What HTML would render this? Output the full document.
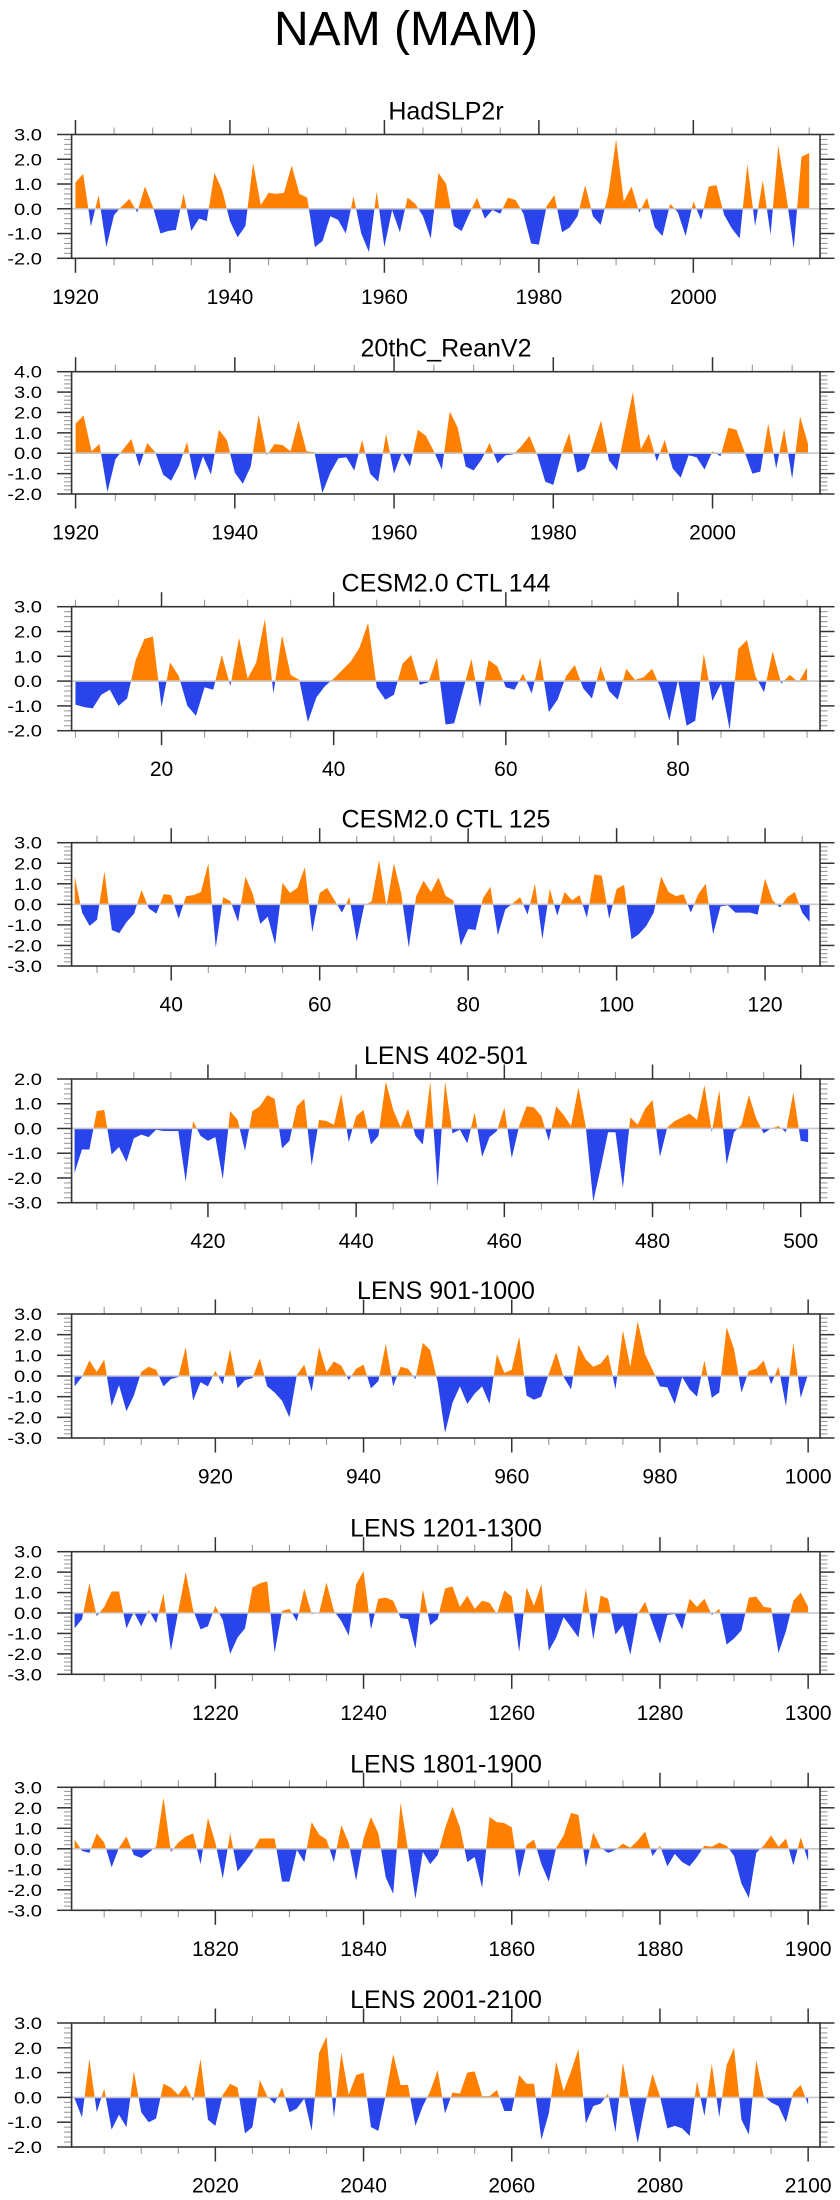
<!DOCTYPE html>
<html><head><meta charset="utf-8">
<style>
html,body{margin:0;padding:0;background:#fff;}
svg{display:block;font-family:"Liberation Sans",sans-serif;}
</style></head>
<body>
<svg id="chart" width="840" height="2200" viewBox="0 0 840 2200" xmlns="http://www.w3.org/2000/svg">
<text x="406" y="45" font-size="48" text-anchor="middle" fill="#000">NAM (MAM)</text>
</svg>
<script>
// ---- data ----
const panelTitles = ["HadSLP2r","20thC_ReanV2","CESM2.0 CTL 144","CESM2.0 CTL 125","LENS 402-501","LENS 901-1000","LENS 1201-1300","LENS 1801-1900","LENS 2001-2100"];
const panelStarts = [1920,1920,10,27,402,901,1201,1801,2001];
const hadslpValues = [1.06,1.41,-0.71,0.55,-1.55,-0.25,0.1,0.4,-0.15,0.9,0.1,-1.0,-0.9,-0.85,0.6,-0.9,-0.4,-0.5,1.45,0.75,-0.5,-1.15,-0.7,1.85,0.15,0.65,0.6,0.65,1.75,0.6,0.45,-1.55,-1.3,-0.3,-0.45,-1.0,0.5,-1.0,-1.75,0.7,-1.55,-0.05,-0.95,0.45,0.2,-0.3,-1.2,1.45,1.0,-0.7,-0.9,-0.2,0.45,-0.4,-0.05,-0.2,0.45,0.35,-0.2,-1.4,-1.45,0.1,0.55,-0.95,-0.75,-0.3,0.95,-0.3,-0.65,0.6,2.8,0.3,0.9,-0.15,0.45,-0.75,-1.1,0.2,-0.15,-1.1,0.3,-0.45,0.9,0.95,-0.25,-0.8,-1.2,1.8,-0.7,1.15,-1.05,2.55,0.6,-1.6,2.1,2.25];
const reanValues = [1.45,1.85,0.1,0.45,-1.9,-0.3,0.2,0.7,-0.65,0.5,0.05,-1.05,-1.35,-0.6,0.55,-1.35,-0.15,-1.05,1.15,0.65,-0.95,-1.5,-0.65,1.9,-0.1,0.45,0.4,0.1,1.6,0.1,0.05,-1.95,-0.95,-0.25,-0.2,-0.85,0.65,-1.0,-1.4,0.95,-1.0,0.05,-0.65,1.15,0.85,0.1,-0.8,2.05,1.25,-0.65,-0.85,-0.3,0.5,-0.5,-0.1,-0.05,0.35,0.85,-0.1,-1.4,-1.55,-0.1,1.0,-0.95,-0.75,0.4,1.6,-0.35,-0.85,1.1,3.0,0.2,0.95,-0.4,0.65,-0.75,-1.2,-0.1,-0.2,-0.8,0.1,-0.15,1.25,1.15,0.1,-1.0,-0.9,1.45,-0.75,1.2,-1.25,1.8,0.45];
const ctl144Values = [-0.95,-1.05,-1.1,-0.55,-0.35,-1.0,-0.7,0.85,1.7,1.8,-1.05,0.75,0.2,-1.0,-1.4,-0.25,-0.35,1.05,-0.2,1.75,0.1,0.75,2.5,-0.5,1.85,0.25,0.05,-1.65,-0.65,-0.2,0.1,0.45,0.8,1.35,2.35,-0.25,-0.75,-0.55,0.7,1.05,-0.15,-0.05,0.95,-1.75,-1.7,-0.4,0.9,-1.05,0.85,0.6,-0.25,-0.35,0.3,-0.5,0.95,-1.25,-0.75,0.2,0.65,-0.3,-0.7,0.6,-0.4,-0.75,0.5,0.05,0.15,0.5,-0.3,-1.6,0.05,-1.8,-1.6,1.1,-0.8,-0.1,-1.95,1.3,1.65,0.2,-0.45,1.2,-0.1,0.25,-0.05,0.55];
const ctl125Values = [1.35,-0.4,-1.05,-0.75,1.6,-1.25,-1.4,-0.85,-0.45,0.7,-0.2,-0.45,0.5,0.45,-0.7,0.4,0.45,0.6,2.0,-2.1,0.35,0.15,-0.85,1.35,0.5,-0.95,-0.6,-1.95,1.05,0.55,0.8,1.8,-1.35,0.55,0.8,0.2,-0.4,0.35,-1.8,-0.05,0.15,2.15,-0.1,2.0,0.5,-2.1,0.4,1.15,0.6,1.3,0.4,0.2,-2.0,-1.2,-1.25,0.3,0.85,-1.5,-0.25,0.05,0.35,-0.5,1.0,-1.7,0.75,-0.55,0.6,0.2,0.45,-0.65,1.45,1.4,-0.7,0.75,0.95,-1.7,-1.45,-1.05,-0.4,1.35,0.6,0.4,0.5,-0.4,0.5,1.0,-1.45,-0.1,-0.05,-0.4,-0.4,-0.4,-0.5,1.25,0.2,-0.15,0.35,0.6,-0.4,-0.85];
const lens402Values = [-1.8,-0.85,-0.85,0.7,0.75,-1.05,-0.75,-1.35,-0.4,-0.25,-0.35,-0.05,-0.1,-0.1,-0.1,-2.15,0.3,-0.3,-0.5,-0.35,-2.05,0.7,0.35,-0.9,0.7,0.9,1.35,1.2,-0.8,-0.5,0.9,1.2,-1.5,0.35,0.3,0.15,1.4,-0.55,0.5,0.75,-0.65,-0.3,1.9,0.75,0.05,0.8,-0.3,-0.65,1.9,-2.35,1.9,-0.2,-0.05,-0.6,0.65,-1.15,-0.35,-0.1,0.85,-1.2,0.1,0.9,0.85,0.5,-0.5,0.9,0.55,0.1,1.65,0.05,-2.95,-1.6,-0.15,-0.15,-2.4,0.45,0.15,0.8,1.15,-1.15,0.05,0.3,0.45,0.6,0.35,1.75,-0.15,1.55,-1.45,-0.15,0.15,1.35,0.4,-0.2,0.0,0.1,-0.15,1.45,-0.5,-0.55];
const lens901Values = [-0.5,-0.05,0.75,0.2,0.8,-1.45,-0.45,-1.7,-0.95,0.2,0.45,0.3,-0.5,-0.15,-0.05,1.4,-1.2,-0.3,-0.5,0.25,-0.4,1.3,-0.6,-0.2,-0.1,0.85,-0.5,-0.8,-1.2,-2.0,0.05,0.55,-0.75,1.4,0.2,0.7,0.5,-0.2,0.35,0.55,-0.6,-0.25,1.55,-0.5,0.45,0.35,-0.15,1.6,1.25,-0.3,-2.75,-1.3,-0.5,-1.35,-0.85,-0.5,-1.35,1.05,0.15,0.3,1.9,-0.95,-1.15,-1.0,0.1,1.15,-0.05,-0.65,1.5,0.8,0.45,0.6,1.05,-0.65,2.2,0.45,2.65,1.05,0.3,-0.5,-0.55,-1.35,-0.05,-0.65,-1.0,0.75,-1.05,-0.8,2.35,1.3,-0.8,0.25,0.35,0.75,-0.4,0.45,-1.45,1.6,-1.05,0.1];
const lens1201Values = [-0.75,-0.3,1.45,-0.15,0.3,1.05,1.05,-0.75,0.05,-0.65,0.15,-0.5,0.95,-1.85,0.1,2.0,0.15,-0.8,-0.65,0.35,-0.35,-2.0,-1.2,-0.75,1.25,1.45,1.55,-1.95,0.1,0.2,-0.4,1.2,-0.05,0.0,1.5,0.1,-0.4,-1.1,1.4,2.05,-0.8,0.7,0.75,0.6,-0.25,-0.3,-1.75,1.15,-0.6,-0.3,1.2,1.3,0.3,0.85,0.2,0.6,0.5,-0.05,1.1,0.8,-1.9,1.25,0.35,1.4,-1.85,-1.2,-0.2,-0.7,-1.2,1.2,-1.3,0.85,0.7,-1.05,-0.6,-2.05,-0.05,0.55,-0.5,-1.5,-0.1,-0.05,-0.8,0.7,0.3,0.7,-0.1,0.2,-1.55,-1.25,-0.85,0.75,0.8,0.3,0.25,-1.95,-0.9,0.6,1.0,0.3];
const lens1801Values = [0.45,-0.1,-0.2,0.75,0.3,-0.9,0.05,0.6,-0.3,-0.45,-0.2,0.1,2.5,-0.15,0.3,0.6,0.75,-0.75,1.5,0.3,-1.45,0.75,-1.1,-0.65,-0.15,0.5,0.5,0.5,-1.6,-1.6,-0.05,-0.65,1.3,0.7,0.45,-0.65,1.15,0.3,-1.55,0.5,1.55,0.75,-1.4,-2.2,2.25,-0.05,-2.45,-0.15,-0.75,-0.3,1.0,2.05,1.05,-0.65,-0.4,-1.9,1.55,1.3,1.25,1.05,-1.4,0.2,0.45,-0.75,-1.6,0.05,0.65,1.75,1.65,-0.9,0.8,0.05,-0.2,-0.05,0.25,0.05,0.4,0.85,-0.35,0.15,-0.85,-0.25,-0.65,-0.85,-0.4,0.15,0.1,0.3,0.15,-0.35,-1.7,-2.4,-0.2,0.15,0.65,0.1,0.5,-0.8,0.55,-0.6];
const lens2001Values = [-0.05,-0.8,1.55,-0.6,0.35,-1.3,-0.7,-1.2,1.05,-0.6,-1.0,-0.85,0.55,0.4,0.1,0.5,-0.15,1.55,-0.9,-1.15,0.1,0.55,0.4,-1.45,-1.2,0.7,0.05,-0.25,0.4,-0.6,-0.45,-0.05,-1.35,1.8,2.45,-0.8,1.8,0.1,0.9,1.0,-1.2,-1.35,0.1,1.75,0.5,0.5,-1.15,-0.35,0.25,1.1,-0.65,0.2,0.15,1.0,1.05,0.05,0.05,0.3,-0.55,-0.55,0.9,0.55,0.55,-1.7,-0.65,1.45,0.25,1.05,1.95,-1.05,-0.35,-0.25,0.15,-1.4,1.4,-0.3,-1.85,-0.3,0.95,0.05,-1.25,-1.15,-1.25,-1.55,0.65,-0.75,1.35,-0.8,1.3,2.0,-0.9,-1.5,1.5,0.05,-0.2,-0.35,-1.0,0.2,0.5,-0.3];
const panelValues = [hadslpValues,reanValues,ctl144Values,ctl125Values,lens402Values,lens901Values,lens1201Values,lens1801Values,lens2001Values];
const panelYMin = [-2,-2,-2,-3,-3,-3,-3,-3,-2];
const panelYMax = [3,4,3,3,2,3,3,3,3];
const panelXTicks = [[1920,1940,1960,1980,2000],[1920,1940,1960,1980,2000],[20,40,60,80],[40,60,80,100,120],[420,440,460,480,500],[920,940,960,980,1000],[1220,1240,1260,1280,1300],[1820,1840,1860,1880,1900],[2020,2040,2060,2080,2100]];
const yTickLabels = ["-3.0","-2.0","-1.0","0.0","1.0","2.0","3.0","4.0"];

// ---- layout (pixel geometry, not data) ----
const layout = [
 {top:134.5,bot:258.3,xmin:1919.5,xmax:2016.4},
 {top:371.7,bot:494,xmin:1919.5,xmax:2013.5},
 {top:606.7,bot:730.7,xmin:9.55,xmax:96.5},
 {top:842.7,bot:966,xmin:26.58,xmax:127.4},
 {top:1079,bot:1202.7,xmin:401.6,xmax:502.6},
 {top:1314,bot:1438,xmin:900.6,xmax:1001.6},
 {top:1551.7,bot:1674.3,xmin:1200.6,xmax:1301.6},
 {top:1787.3,bot:1910.3,xmin:1800.6,xmax:1901.6},
 {top:2023,bot:2147,xmin:2000.6,xmax:2101.6}
];
const L = 71.6, R = 820;
const NS = "http://www.w3.org/2000/svg";
const svg = document.getElementById('chart');
function mk(tag, attrs, parent){
  const e = document.createElementNS(NS, tag);
  for (const k in attrs) e.setAttribute(k, attrs[k]);
  (parent||svg).appendChild(e);
  return e;
}

panelValues.forEach((vals, p) => {
  const g = layout[p];
  const ymin = panelYMin[p], ymax = panelYMax[p];
  const xs = t => L + (t - g.xmin) / (g.xmax - g.xmin) * (R - L);
  const ys = v => g.bot - (v - ymin) / (ymax - ymin) * (g.bot - g.top);
  const grp = mk('g', {});
  
  

  // title
  const tt = mk('text', {x:446, y:g.top - 24 + 9, 'font-size':25, 'text-anchor':'middle', fill:'#000'}, grp);
  tt.textContent = panelTitles[p];
  
  

  // build points with zero crossings
  const pts = [];
  for (let i = 0; i < vals.length; i++) {
    const t = panelStarts[p] + i, v = vals[i];
    if (i > 0) {
      const v0 = vals[i-1];
      if ((v0 > 0 && v < 0) || (v0 < 0 && v > 0)) {
        const f = v0 / (v0 - v);
        pts.push([t - 1 + f, 0]);
      }
    }
    pts.push([t, v]);
  }
  const first = pts[0][0], last = pts[pts.length-1][0];
  let pos = `${xs(first)},${ys(0)} `, neg = pos;
  pts.forEach(([t,v]) => {
    pos += `${xs(t).toFixed(2)},${ys(Math.max(v,0)).toFixed(2)} `;
    neg += `${xs(t).toFixed(2)},${ys(Math.min(v,0)).toFixed(2)} `;
  });
  pos += `${xs(last)},${ys(0)}`; neg += `${xs(last)},${ys(0)}`;
  const pa = mk('polygon', {points:pos, fill:'#ff8000'}, grp);
  
  
  const na = mk('polygon', {points:neg, fill:'#2a44ec'}, grp);
  
  

  // zero line
  const zl = mk('line', {x1:L, x2:R, y1:ys(0), y2:ys(0), stroke:'#c8c8c8', 'stroke-width':1.6}, grp);
  
  

  // y ticks
  for (let k = Math.round(ymin*5); k <= Math.round(ymax*5); k++) {
    const v = k/5, y = ys(v), major = (k % 5 === 0);
    const len = major ? 14.5 : 7.5, col = major ? '#333' : '#999', sw = major ? 1.5 : 1.1;
    mk('line', {x1:L-len, x2:L, y1:y, y2:y, stroke:col, 'stroke-width':sw}, grp);
    mk('line', {x1:R, x2:R+len, y1:y, y2:y, stroke:col, 'stroke-width':sw}, grp);
    if (major) {
      const lab = yTickLabels[v + 3];
      const tg = mk('g', {transform:`translate(42,${y+6}) scale(1.22,1)`}, grp);
      const tx = mk('text', {x:0, y:0, 'font-size':16.5, 'text-anchor':'end', fill:'#000'}, tg);
      tx.textContent = lab;
      
      
    }
  }
  // x ticks
  const majors = panelXTicks[p];
  const lo = Math.ceil(g.xmin/5)*5;
  for (let t = lo; t <= g.xmax; t += 5) {
    const x = xs(t), major = (t % 20 === 0);
    const len = major ? 14.5 : 7, col = major ? '#333' : '#999', sw = major ? 1.5 : 1.1;
    mk('line', {x1:x, x2:x, y1:g.bot, y2:g.bot+len, stroke:col, 'stroke-width':sw}, grp);
    mk('line', {x1:x, x2:x, y1:g.top-len, y2:g.top, stroke:col, 'stroke-width':sw}, grp);
  }
  majors.forEach(t => {
    const tx = mk('text', {x:xs(t), y:g.bot + 38 + 7.5, 'font-size':21, 'text-anchor':'middle', fill:'#000'}, grp);
    tx.textContent = String(t);
    
    
  });

  // frame
  const fr = mk('rect', {x:L, y:g.top, width:R-L, height:g.bot-g.top, fill:'none', stroke:'#333', 'stroke-width':1.6}, grp);
  
  
});
</script>
</body></html>
